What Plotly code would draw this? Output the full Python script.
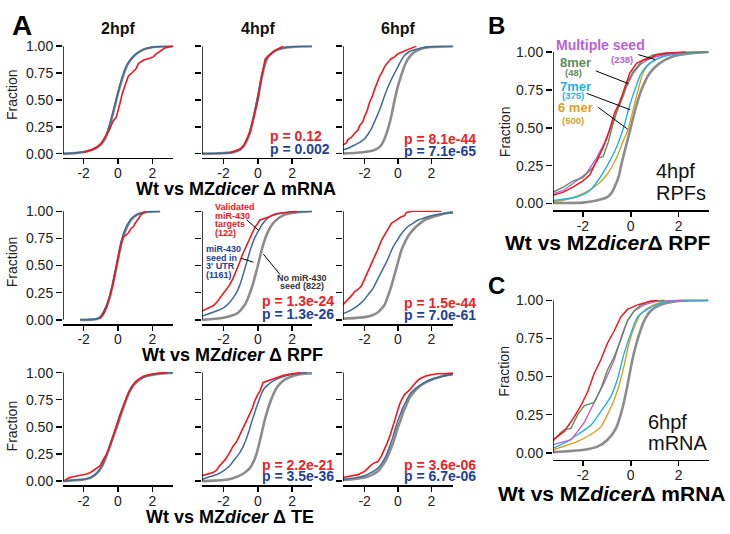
import plotly.graph_objects as go

# ---------------- tick labels / text ----------------
TICK_Y = [0, 0.25, 0.5, 0.75, 1.0]
TICK_Y_TEXT = ["0.00", "0.25", "0.50", "0.75", "1.00"]
TICK_X = [-2, 0, 2]
TICK_X_TEXT = ["-2", "0", "2"]
STAGES = ["2hpf", "4hpf", "6hpf"]
ROW_MEASURES = ["mRNA", "RPF", "TE"]
P_RED = [[None, "0.12", "8.1e-44"], [None, "1.3e-24", "1.5e-44"], [None, "2.2e-21", "3.6e-06"]]
P_BLUE = [[None, "0.002", "7.1e-65"], [None, "1.3e-26", "7.0e-61"], [None, "3.5e-36", "6.7e-06"]]
SEED_LABELS = ["Multiple seed", "8mer", "7mer", "6 mer"]
SEED_COUNTS = ["(238)", "(48)", "(375)", "(500)"]

# ---------------- CDF curves (x = log2 fold change, y = cumulative fraction) ----------------
# Panel A, row 1 : mRNA
MRNA_2HPF_GRAY = [(-3.2, 0), (-2.5, 0.005), (-2, 0.015), (-1.5, 0.035), (-1, 0.085), (-0.75, 0.14), (-0.5, 0.25), (-0.25, 0.4), (0, 0.56), (0.25, 0.7), (0.5, 0.81), (0.75, 0.875), (1, 0.92), (1.5, 0.97), (2, 0.99), (2.5, 0.997), (3.2, 1.0)]
MRNA_2HPF_BLUE = [(-3.2, 0), (-2.5, 0.006), (-2, 0.018), (-1.5, 0.04), (-1, 0.09), (-0.75, 0.15), (-0.5, 0.26), (-0.25, 0.41), (0, 0.57), (0.25, 0.71), (0.5, 0.82), (0.75, 0.88), (1, 0.92), (1.5, 0.97), (2, 0.99), (2.5, 0.997), (3.2, 1.0)]
MRNA_2HPF_RED = [(-2.0, 0.01), (-1.6, 0.03), (-1.3, 0.05), (-1.0, 0.09), (-0.75, 0.15), (-0.5, 0.22), (-0.3, 0.3), (-0.1, 0.34), (0.1, 0.46), (0.25, 0.56), (0.4, 0.63), (0.6, 0.72), (0.8, 0.75), (1.05, 0.79), (1.2, 0.84), (1.5, 0.87), (1.8, 0.885), (2.05, 0.9), (2.25, 0.93), (2.5, 0.96), (2.7, 0.98), (3.0, 0.995), (3.2, 1.0)]

MRNA_4HPF_GRAY = [(-3.25, 0), (-2.5, 0.002), (-2, 0.005), (-1.5, 0.012), (-1.25, 0.022), (-1, 0.04), (-0.75, 0.09), (-0.5, 0.18), (-0.25, 0.33), (0, 0.52), (0.25, 0.73), (0.5, 0.87), (0.75, 0.925), (1, 0.955), (1.5, 0.982), (2, 0.993), (2.5, 0.998), (3.15, 1.0)]
MRNA_4HPF_BLUE = [(-3.25, 0), (-2.5, 0.002), (-2, 0.006), (-1.5, 0.014), (-1.25, 0.024), (-1, 0.045), (-0.75, 0.095), (-0.5, 0.19), (-0.25, 0.35), (0, 0.54), (0.25, 0.75), (0.5, 0.88), (0.75, 0.93), (1, 0.958), (1.5, 0.984), (2, 0.994), (2.5, 0.998), (3.15, 1.0)]
MRNA_4HPF_RED = [(-1.65, 0.005), (-1.3, 0.025), (-1.0, 0.045), (-0.8, 0.08), (-0.6, 0.15), (-0.45, 0.2), (-0.3, 0.3), (-0.15, 0.4), (0, 0.5), (0.15, 0.65), (0.3, 0.8), (0.42, 0.88), (0.6, 0.91), (0.8, 0.93), (1.0, 0.96), (1.2, 0.98), (1.47, 1.0)]

MRNA_6HPF_GRAY = [(-3.3, 0.0), (-2.5, 0.008), (-2, 0.015), (-1.5, 0.03), (-1.2, 0.05), (-1.0, 0.08), (-0.8, 0.14), (-0.6, 0.23), (-0.4, 0.35), (-0.2, 0.5), (0, 0.63), (0.2, 0.73), (0.4, 0.82), (0.6, 0.88), (0.8, 0.92), (1.1, 0.955), (1.4, 0.976), (2.0, 0.993), (2.6, 0.998), (3.3, 1.0)]
MRNA_6HPF_BLUE = [(-3.3, 0.036), (-3.0, 0.05), (-2.6, 0.08), (-2.3, 0.105), (-2, 0.14), (-1.8, 0.18), (-1.6, 0.23), (-1.4, 0.3), (-1.2, 0.37), (-1.0, 0.45), (-0.8, 0.54), (-0.6, 0.62), (-0.4, 0.69), (-0.2, 0.75), (0, 0.81), (0.2, 0.87), (0.4, 0.915), (0.7, 0.95), (1.0, 0.967), (1.6, 0.99), (2.2, 0.997), (3.3, 1.0)]
MRNA_6HPF_RED = [(-3.3, 0.08), (-3.1, 0.1), (-3.0, 0.13), (-2.8, 0.15), (-2.6, 0.19), (-2.4, 0.22), (-2.3, 0.26), (-2.1, 0.3), (-2.0, 0.35), (-1.85, 0.4), (-1.7, 0.48), (-1.55, 0.53), (-1.4, 0.6), (-1.25, 0.66), (-1.1, 0.72), (-0.95, 0.76), (-0.8, 0.81), (-0.6, 0.85), (-0.4, 0.885), (-0.2, 0.9), (0, 0.93), (0.25, 0.945), (0.5, 0.96), (0.8, 0.98), (1.1, 1.0)]

# Panel A, row 2 : RPF
RPF_2HPF_GRAY = [(-2.2, 0.0), (-1.6, 0.002), (-1.2, 0.01), (-1.0, 0.03), (-0.8, 0.08), (-0.6, 0.15), (-0.4, 0.26), (-0.2, 0.4), (0, 0.56), (0.2, 0.71), (0.4, 0.81), (0.6, 0.88), (0.8, 0.93), (1.1, 0.97), (1.5, 0.99), (2.0, 0.998), (2.45, 1.0)]
RPF_2HPF_BLUE = [(-2.2, 0.0), (-1.6, 0.002), (-1.2, 0.01), (-1.0, 0.03), (-0.8, 0.085), (-0.6, 0.16), (-0.4, 0.27), (-0.2, 0.42), (0, 0.58), (0.2, 0.73), (0.4, 0.83), (0.6, 0.89), (0.8, 0.935), (1.1, 0.97), (1.5, 0.99), (2.0, 0.998), (2.45, 1.0)]
RPF_2HPF_RED = [(-1.05, 0.01), (-0.85, 0.05), (-0.7, 0.1), (-0.5, 0.2), (-0.3, 0.33), (-0.15, 0.45), (0, 0.57), (0.15, 0.68), (0.3, 0.76), (0.45, 0.78), (0.6, 0.8), (0.75, 0.84), (0.9, 0.86), (1.0, 0.89), (1.2, 0.94), (1.35, 0.97), (1.6, 1.0)]

RPF_4HPF_GRAY = [(-3.25, 0.0), (-2.5, 0.01), (-2.0, 0.02), (-1.5, 0.04), (-1.2, 0.06), (-1.0, 0.09), (-0.75, 0.14), (-0.5, 0.23), (-0.25, 0.35), (0, 0.5), (0.25, 0.66), (0.5, 0.78), (0.75, 0.86), (1.0, 0.91), (1.5, 0.965), (2.0, 0.985), (2.5, 0.995), (3.15, 1.0)]
RPF_4HPF_BLUE = [(-3.25, 0.036), (-2.6, 0.07), (-2.0, 0.11), (-1.7, 0.15), (-1.45, 0.2), (-1.25, 0.25), (-1.05, 0.32), (-0.85, 0.42), (-0.65, 0.53), (-0.45, 0.64), (-0.25, 0.73), (0, 0.81), (0.3, 0.89), (0.6, 0.94), (0.9, 0.97), (1.3, 0.985), (1.7, 0.992), (2.5, 0.998), (3.15, 1.0)]
RPF_4HPF_RED = [(-3.25, 0.08), (-3.0, 0.1), (-2.6, 0.13), (-2.4, 0.16), (-2.2, 0.2), (-2.0, 0.24), (-1.84, 0.28), (-1.65, 0.32), (-1.45, 0.38), (-1.25, 0.45), (-1.06, 0.53), (-0.9, 0.6), (-0.76, 0.65), (-0.6, 0.71), (-0.47, 0.76), (-0.3, 0.81), (-0.18, 0.85), (0, 0.89), (0.12, 0.92), (0.3, 0.93), (0.5, 0.94), (0.8, 0.96), (1.1, 0.976), (1.5, 0.985), (1.9, 0.995), (2.3, 1.0)]

RPF_6HPF_GRAY = [(-3.3, 0.01), (-2.5, 0.018), (-2, 0.025), (-1.5, 0.045), (-1.2, 0.07), (-1.0, 0.1), (-0.8, 0.14), (-0.6, 0.22), (-0.4, 0.31), (-0.2, 0.42), (0, 0.53), (0.2, 0.64), (0.4, 0.71), (0.6, 0.77), (0.85, 0.82), (1.1, 0.86), (1.6, 0.92), (2.2, 0.955), (2.6, 0.972), (3.0, 0.985), (3.3, 0.99)]
RPF_6HPF_BLUE = [(-3.3, 0.055), (-3.0, 0.075), (-2.6, 0.11), (-2.3, 0.145), (-2, 0.19), (-1.75, 0.24), (-1.5, 0.29), (-1.3, 0.35), (-1.1, 0.41), (-0.9, 0.47), (-0.7, 0.53), (-0.5, 0.6), (-0.3, 0.67), (-0.1, 0.72), (0.1, 0.77), (0.35, 0.82), (0.6, 0.86), (0.9, 0.89), (1.2, 0.92), (1.6, 0.94), (2.0, 0.96), (2.6, 0.978), (3.3, 0.99)]
RPF_6HPF_RED = [(-3.3, 0.14), (-3.1, 0.17), (-2.9, 0.2), (-2.75, 0.23), (-2.6, 0.26), (-2.4, 0.28), (-2.2, 0.31), (-2.05, 0.36), (-1.9, 0.41), (-1.75, 0.46), (-1.6, 0.52), (-1.45, 0.56), (-1.3, 0.61), (-1.15, 0.67), (-1.0, 0.73), (-0.85, 0.77), (-0.7, 0.82), (-0.55, 0.86), (-0.4, 0.89), (-0.2, 0.91), (0, 0.93), (0.2, 0.95), (0.4, 0.96), (0.5, 0.99), (0.9, 1.0), (2.6, 1.0)]

# Panel A, row 3 : TE
TE_2HPF_GRAY = [(-3.2, 0.0), (-2.5, 0.008), (-2.0, 0.015), (-1.6, 0.03), (-1.25, 0.07), (-1.0, 0.12), (-0.75, 0.2), (-0.5, 0.31), (-0.25, 0.42), (0, 0.53), (0.25, 0.65), (0.5, 0.76), (0.75, 0.85), (1.0, 0.9), (1.3, 0.94), (1.7, 0.97), (2.2, 0.985), (2.7, 0.995), (3.2, 1.0)]
TE_2HPF_BLUE = [(-3.2, 0.0), (-2.5, 0.01), (-2.0, 0.018), (-1.6, 0.035), (-1.25, 0.07), (-1.0, 0.12), (-0.75, 0.21), (-0.5, 0.32), (-0.25, 0.43), (0, 0.54), (0.25, 0.66), (0.5, 0.77), (0.75, 0.86), (1.0, 0.91), (1.3, 0.945), (1.7, 0.97), (2.2, 0.988), (2.7, 0.996), (3.2, 1.0)]
TE_2HPF_RED = [(-3.1, 0.006), (-2.85, 0.03), (-2.6, 0.04), (-2.2, 0.05), (-1.82, 0.066), (-1.6, 0.08), (-1.43, 0.1), (-1.2, 0.12), (-1.05, 0.14), (-0.85, 0.2), (-0.66, 0.25), (-0.45, 0.33), (-0.27, 0.43), (-0.1, 0.5), (0.02, 0.57), (0.15, 0.63), (0.31, 0.69), (0.45, 0.74), (0.6, 0.81), (0.8, 0.86), (0.99, 0.91), (1.2, 0.94), (1.47, 0.967), (1.8, 0.98), (2.05, 0.99), (2.83, 1.0)]

TE_4HPF_GRAY = [(-3.25, 0.0), (-2.5, 0.005), (-2.0, 0.01), (-1.5, 0.025), (-1.06, 0.05), (-0.75, 0.08), (-0.47, 0.12), (-0.25, 0.18), (-0.08, 0.25), (0.1, 0.36), (0.22, 0.44), (0.35, 0.53), (0.5, 0.62), (0.7, 0.72), (0.9, 0.8), (1.1, 0.86), (1.3, 0.9), (1.6, 0.94), (1.9, 0.96), (2.3, 0.98), (2.7, 0.99), (3.15, 0.995)]
TE_4HPF_BLUE = [(-3.25, 0.018), (-2.8, 0.04), (-2.4, 0.06), (-2.0, 0.095), (-1.65, 0.14), (-1.35, 0.2), (-1.06, 0.26), (-0.85, 0.32), (-0.67, 0.39), (-0.5, 0.47), (-0.37, 0.54), (-0.2, 0.62), (-0.08, 0.68), (0.08, 0.75), (0.22, 0.81), (0.4, 0.86), (0.6, 0.89), (0.85, 0.92), (1.1, 0.94), (1.5, 0.965), (1.9, 0.98), (2.4, 0.993), (2.86, 1.0)]
TE_4HPF_RED = [(-3.25, 0.05), (-3.0, 0.06), (-2.6, 0.08), (-2.4, 0.1), (-2.24, 0.14), (-2.0, 0.18), (-1.84, 0.21), (-1.65, 0.26), (-1.45, 0.32), (-1.25, 0.36), (-1.06, 0.42), (-0.9, 0.48), (-0.76, 0.53), (-0.6, 0.58), (-0.47, 0.62), (-0.3, 0.68), (-0.18, 0.74), (-0.03, 0.79), (0.12, 0.83), (0.31, 0.91), (0.5, 0.92), (0.7, 0.93), (1.0, 0.95), (1.2, 0.96), (1.5, 0.975), (1.8, 0.985), (2.2, 0.995), (2.5, 1.0)]

TE_6HPF_GRAY = [(-3.3, 0.01), (-2.6, 0.02), (-2.0, 0.033), (-1.6, 0.055), (-1.2, 0.09), (-0.95, 0.14), (-0.7, 0.2), (-0.5, 0.27), (-0.3, 0.35), (-0.15, 0.42), (0, 0.5), (0.15, 0.56), (0.3, 0.63), (0.5, 0.7), (0.7, 0.77), (0.95, 0.82), (1.2, 0.86), (1.5, 0.895), (1.8, 0.92), (2.2, 0.945), (2.6, 0.965), (3.0, 0.978), (3.3, 0.985)]
TE_6HPF_BLUE = [(-3.3, 0.018), (-2.6, 0.03), (-2.0, 0.05), (-1.6, 0.08), (-1.2, 0.12), (-0.95, 0.17), (-0.7, 0.24), (-0.5, 0.32), (-0.3, 0.41), (-0.15, 0.49), (0, 0.56), (0.15, 0.62), (0.3, 0.68), (0.5, 0.74), (0.7, 0.8), (0.95, 0.84), (1.2, 0.87), (1.5, 0.9), (1.8, 0.925), (2.2, 0.948), (2.6, 0.965), (3.0, 0.978), (3.3, 0.985)]
TE_6HPF_RED = [(-3.3, 0.033), (-3.0, 0.04), (-2.6, 0.05), (-2.4, 0.06), (-2.2, 0.075), (-2.0, 0.09), (-1.8, 0.12), (-1.6, 0.15), (-1.4, 0.17), (-1.2, 0.18), (-1.0, 0.23), (-0.8, 0.29), (-0.65, 0.35), (-0.5, 0.41), (-0.35, 0.49), (-0.2, 0.57), (-0.05, 0.64), (0.1, 0.71), (0.25, 0.76), (0.4, 0.8), (0.55, 0.82), (0.7, 0.84), (0.85, 0.87), (1.0, 0.9), (1.2, 0.93), (1.4, 0.95), (1.7, 0.97), (2.0, 0.98), (2.4, 0.99), (2.8, 0.99), (3.3, 0.995)]

# Panel B : 4hpf RPF by seed type
B_GRAY = [(-3.25, 0.004), (-2.0, 0.006), (-1.43, 0.02), (-1.0, 0.04), (-0.8, 0.07), (-0.67, 0.11), (-0.5, 0.18), (-0.39, 0.26), (-0.18, 0.39), (0.03, 0.52), (0.24, 0.65), (0.5, 0.77), (0.79, 0.86), (1.2, 0.925), (1.76, 0.97), (2.46, 0.99), (3.25, 1.0)]
B_6MER = [(-3.25, 0.01), (-2.6, 0.03), (-2.0, 0.065), (-1.43, 0.12), (-1.0, 0.19), (-0.6, 0.3), (-0.32, 0.41), (-0.11, 0.49), (0.1, 0.62), (0.31, 0.75), (0.51, 0.86), (0.79, 0.925), (1.35, 0.97), (1.9, 0.994), (2.5, 1.0), (3.25, 1.0)]
B_7MER = [(-3.25, 0.02), (-2.26, 0.043), (-1.71, 0.086), (-1.29, 0.17), (-0.88, 0.28), (-0.6, 0.37), (-0.32, 0.49), (-0.04, 0.65), (0.17, 0.75), (0.44, 0.86), (0.79, 0.925), (1.35, 0.97), (2.18, 0.99), (3.25, 1.0)]
B_MULTI = [(-3.25, 0.065), (-2.82, 0.086), (-2.26, 0.15), (-1.85, 0.2), (-1.43, 0.3), (-1.0, 0.43), (-0.74, 0.54), (-0.46, 0.65), (-0.18, 0.77), (0.1, 0.86), (0.38, 0.914), (0.79, 0.957), (1.35, 0.98), (2.18, 0.996), (3.25, 1.0)]
B_8MER = [(-3.25, 0.075), (-2.8, 0.11), (-2.4, 0.15), (-2.0, 0.17), (-1.57, 0.24), (-1.35, 0.3), (-1.15, 0.31), (-0.95, 0.4), (-0.75, 0.52), (-0.6, 0.6), (-0.32, 0.71), (-0.11, 0.81), (0.1, 0.87), (0.51, 0.946), (0.93, 0.98), (1.49, 0.996), (3.25, 1.0)]
B_RED = [(-3.25, 0.054), (-2.82, 0.075), (-2.4, 0.11), (-2.0, 0.15), (-1.71, 0.19), (-1.43, 0.28), (-1.15, 0.37), (-0.88, 0.49), (-0.67, 0.6), (-0.46, 0.67), (-0.25, 0.77), (-0.04, 0.86), (0.24, 0.925), (0.51, 0.946), (0.79, 0.957), (1.07, 0.98), (1.63, 0.994), (2.3, 1.0)]

# Panel C : 6hpf mRNA by seed type
C_GRAY = [(-3.25, 0.004), (-1.94, 0.02), (-1.39, 0.04), (-0.97, 0.085), (-0.62, 0.16), (-0.35, 0.29), (-0.14, 0.44), (0.07, 0.61), (0.28, 0.74), (0.56, 0.865), (0.83, 0.93), (1.25, 0.97), (1.94, 0.994), (3.25, 1.0)]
C_6MER = [(-3.25, 0.02), (-2.78, 0.043), (-2.22, 0.075), (-1.67, 0.12), (-1.25, 0.17), (-0.97, 0.25), (-0.69, 0.35), (-0.49, 0.44), (-0.28, 0.57), (-0.07, 0.72), (0.14, 0.82), (0.42, 0.91), (0.83, 0.96), (1.39, 0.99), (2.2, 1.0), (3.25, 1.0)]
C_7MER = [(-3.25, 0.03), (-2.64, 0.075), (-2.22, 0.12), (-1.67, 0.18), (-1.25, 0.27), (-0.83, 0.37), (-0.56, 0.48), (-0.28, 0.65), (0, 0.78), (0.28, 0.89), (0.69, 0.94), (1.25, 0.98), (1.94, 0.998), (3.25, 1.0)]
C_MULTI = [(-3.25, 0.053), (-2.5, 0.085), (-2.22, 0.14), (-1.94, 0.2), (-1.53, 0.33), (-1.11, 0.46), (-0.69, 0.61), (-0.35, 0.78), (-0.14, 0.865), (0.14, 0.93), (0.56, 0.97), (1.11, 0.994), (2.2, 1.0)]
C_8MER = [(-3.25, 0.075), (-2.95, 0.13), (-2.78, 0.15), (-2.5, 0.16), (-2.22, 0.25), (-1.94, 0.31), (-1.53, 0.33), (-1.25, 0.42), (-0.97, 0.545), (-0.69, 0.63), (-0.42, 0.74), (-0.14, 0.865), (0.14, 0.93), (0.42, 0.97), (0.83, 0.994), (1.4, 1.0)]
C_RED = [(-3.25, 0.085), (-2.78, 0.14), (-2.36, 0.235), (-2.08, 0.31), (-1.8, 0.4), (-1.53, 0.52), (-1.25, 0.61), (-0.97, 0.72), (-0.69, 0.8), (-0.42, 0.89), (-0.14, 0.94), (0.28, 0.97), (0.83, 0.994), (1.11, 1.0)]

# ---------------- styling ----------------
W, H = 730, 534
FONT = "Liberation Sans, Arial, sans-serif"
RED = "#f3161f"
BLUE = "#3f6b95"
GRAY = "#8c8c8c"
P_RED_COL = "#ee2226"
P_BLUE_COL = "#22409a"
PURPLE = "#b662d8"
GREEN = "#5c8e5a"
CYAN = "#1eb2e8"
GOLD = "#d9a21e"

fig = go.Figure()
annotations = []
shapes = []
layout_axes = {}
panel_count = [0]


def P(x, y):
    return x / W, 1 - y / H


def add_panel(xpx, xr, y1px, y0px, yr, curves, ylabels):
    panel_count[0] += 1
    n = panel_count[0]
    sfx = "" if n == 1 else str(n)
    xref, yref = "x" + sfx, "y" + sfx
    u = y0px - y1px
    top = y1px - (yr[1] - 1) * u
    bottom = y0px + (0 - yr[0]) * u
    layout_axes["xaxis" + sfx] = dict(
        domain=[xpx[0] / W, xpx[1] / W], range=list(xr), anchor=yref,
        showline=True, linecolor="black", linewidth=1.5, mirror=False,
        ticks="outside", ticklen=5, tickwidth=1.5, tickcolor="black",
        tickvals=TICK_X, ticktext=TICK_X_TEXT, ticklabelstandoff=-3,
        tickfont=dict(family=FONT, size=14, color="#222"),
        showgrid=False, zeroline=False, fixedrange=True)
    layout_axes["yaxis" + sfx] = dict(
        domain=[1 - bottom / H, 1 - top / H], range=list(yr), anchor=xref,
        showline=False, ticks="outside", ticklen=6, tickwidth=1.5, tickcolor="black",
        tickvals=TICK_Y, ticktext=TICK_Y_TEXT, showticklabels=ylabels,
        tickfont=dict(family=FONT, size=14, color="#222"),
        showgrid=False, zeroline=False, fixedrange=True)
    for pts, color, width, smooth in curves:
        line = dict(color=color, width=width, shape="spline" if smooth else "linear")
        if smooth:
            line["smoothing"] = 0.7
        fig.add_trace(go.Scatter(
            x=[p[0] for p in pts], y=[p[1] for p in pts], mode="lines",
            line=line, xaxis=xref, yaxis=yref, showlegend=False, hoverinfo="skip"))
    shapes.append(dict(type="line", xref=xref, yref=yref, x0=xr[0], x1=xr[0], y0=0, y1=1,
                       line=dict(color="black", width=1.5)))


def text(x, y, s, size, color="#111", bold=False, xanchor="center", angle=0):
    xx, yy = P(x, y)
    annotations.append(dict(
        x=xx, y=yy, xref="paper", yref="paper", text=("<b>%s</b>" % s) if bold else s,
        showarrow=False, xanchor=xanchor, yanchor="middle", textangle=angle,
        font=dict(family=FONT, size=size, color=color)))


def leader(x0, y0, x1, y1):
    a = P(x0, y0)
    b = P(x1, y1)
    shapes.append(dict(type="line", xref="paper", yref="paper", x0=a[0], y0=a[1], x1=b[0], y1=b[1],
                       line=dict(color="black", width=1)))


# ---------------- panel A ----------------
A_COL_X = [(63, 173), (202, 312), (343, 453)]
A_COL_RANGE = [(-3.2, 3.2), (-3.25, 3.15), (-3.3, 3.3)]
A_ROW_Y = [(39, 149), (208, 319), (373, 484)]
YR_A = (-0.04, 1.005)

A_CURVES = [
    [(MRNA_2HPF_GRAY, MRNA_2HPF_BLUE, MRNA_2HPF_RED), (MRNA_4HPF_GRAY, MRNA_4HPF_BLUE, MRNA_4HPF_RED), (MRNA_6HPF_GRAY, MRNA_6HPF_BLUE, MRNA_6HPF_RED)],
    [(RPF_2HPF_GRAY, RPF_2HPF_BLUE, RPF_2HPF_RED), (RPF_4HPF_GRAY, RPF_4HPF_BLUE, RPF_4HPF_RED), (RPF_6HPF_GRAY, RPF_6HPF_BLUE, RPF_6HPF_RED)],
    [(TE_2HPF_GRAY, TE_2HPF_BLUE, TE_2HPF_RED), (TE_4HPF_GRAY, TE_4HPF_BLUE, TE_4HPF_RED), (TE_6HPF_GRAY, TE_6HPF_BLUE, TE_6HPF_RED)],
]

for r in range(3):
    for c in range(3):
        g, b, rd = A_CURVES[r][c]
        add_panel(A_COL_X[c], A_COL_RANGE[c], A_ROW_Y[r][0], A_ROW_Y[r][1], YR_A,
                  [(g, GRAY, 2.6, True), (b, BLUE, 1.5, True), (rd, RED, 1.6, False)], c == 0)

# p-values
P_POS = [[None, (268, 131, 144), (402, 134, 146)],
         [None, (260, 300, 313), (402, 302, 314)],
         [None, (260, 467, 479), (402, 467, 479)]]
for r in range(3):
    for c in range(1, 3):
        x, yr_, yb_ = P_POS[r][c]
        text(x, yr_, "p = " + P_RED[r][c], 14, P_RED_COL, True, "left")
        text(x, yb_, "p = " + P_BLUE[r][c], 14, P_BLUE_COL, True, "left")

# column titles, panel letter, Fraction labels, row titles
text(22, 18, "A", 28, "#000", True)
for c, s in enumerate(STAGES):
    text([118, 258, 398][c], 21, s, 16, "#111", True)
for r, yc in enumerate([88, 259, 427]):
    text(12, yc, "Fraction", 14, "#222", False, "center", -90)
ROW_TITLE_POS = [(236, 185), (232, 355), (230, 521)]
for r, m in enumerate(ROW_MEASURES):
    x, y = ROW_TITLE_POS[r]
    text(x, y, "Wt vs MZ<i>dicer</i> \u0394 " + m, 18, "#000", True)

# row 2, 4hpf callouts
for i, s in enumerate(["Validated", "miR-430", "targets", "(122)"]):
    text(213, [203.5, 212.5, 221, 230][i], s, 9, "#f0161e", True, "left")
for i, s in enumerate(["miR-430", "seed in", "3' UTR", "(1161)"]):
    text(204, [247, 255.5, 264, 273][i], s, 9, "#23419a", True, "left")
for i, s in enumerate(["No miR-430", "seed (822)"]):
    text(302, [276, 284.5][i], s, 9, "#333", True)
leader(246.7, 216.7, 258.3, 227.3)
leader(241, 256, 253.3, 260)
leader(263.3, 251.7, 280, 272.7)

# ---------------- panel B ----------------
add_panel((553, 708.5), (-3.25, 3.25), 45, 200, (-0.045, 1.005),
          [(B_GRAY, GRAY, 2.6, True), (B_6MER, GOLD, 1.4, True), (B_7MER, CYAN, 1.4, True),
           (B_MULTI, PURPLE, 1.4, False), (B_8MER, GREEN, 1.4, False), (B_RED, RED, 1.5, False)], True)
text(496, 18, "B", 24, "#000", True)
text(505, 127, "Fraction", 14, "#222", False, "center", -90)
text(554, 38, SEED_LABELS[0], 14, PURPLE, True, "left")
text(622, 53, SEED_COUNTS[0], 9.5, PURPLE, True)
text(558, 56, SEED_LABELS[1], 13, GREEN, True, "left")
text(573, 66, SEED_COUNTS[1], 9.5, GREEN, True)
text(558, 80, SEED_LABELS[2], 13, CYAN, True, "left")
text(573, 90, SEED_COUNTS[2], 9.5, CYAN, True)
text(556, 102, SEED_LABELS[3], 13, GOLD, True, "left")
text(573, 115, SEED_COUNTS[3], 9.5, GOLD, True)
leader(638.3, 47.7, 655, 52.7)
leader(595.7, 64.3, 628.3, 77.3)
leader(586.7, 87.3, 630, 104)
leader(598.3, 101.7, 627.7, 124)
text(654, 167, "4hpf", 20, "#111", False, "left")
text(654, 189, "RPFs", 20, "#111", False, "left")
text(607, 240, "Wt vs MZ<i>dicer</i>\u0394 RPF", 21, "#000", True)

# ---------------- panel C ----------------
add_panel((553, 708.5), (-3.25, 3.25), 299, 455, (-0.045, 1.005),
          [(C_GRAY, GRAY, 2.6, True), (C_6MER, GOLD, 1.4, True), (C_7MER, CYAN, 1.4, True),
           (C_MULTI, PURPLE, 1.4, False), (C_8MER, GREEN, 1.4, False), (C_RED, RED, 1.5, False)], True)
text(496, 284, "C", 24, "#000", True)
text(504, 372, "Fraction", 14, "#222", False, "center", -90)
text(646, 424, "6hpf", 20, "#111", False, "left")
text(646, 445, "mRNA", 20, "#111", False, "left")
text(611, 497, "Wt vs MZ<i>dicer</i>\u0394 mRNA", 21, "#000", True)

fig.update_layout(
    width=W, height=H, margin=dict(l=0, r=0, t=0, b=0),
    paper_bgcolor="white", plot_bgcolor="white",
    font=dict(family=FONT, color="#111"),
    annotations=annotations, shapes=shapes, showlegend=False,
    **layout_axes)

fig.write_html("out.html",
               config={"displayModeBar": False, "staticPlot": True},
               post_script="document.body.style.margin='0px';document.body.style.padding='0px';"
                           "document.documentElement.style.overflow='hidden';")
